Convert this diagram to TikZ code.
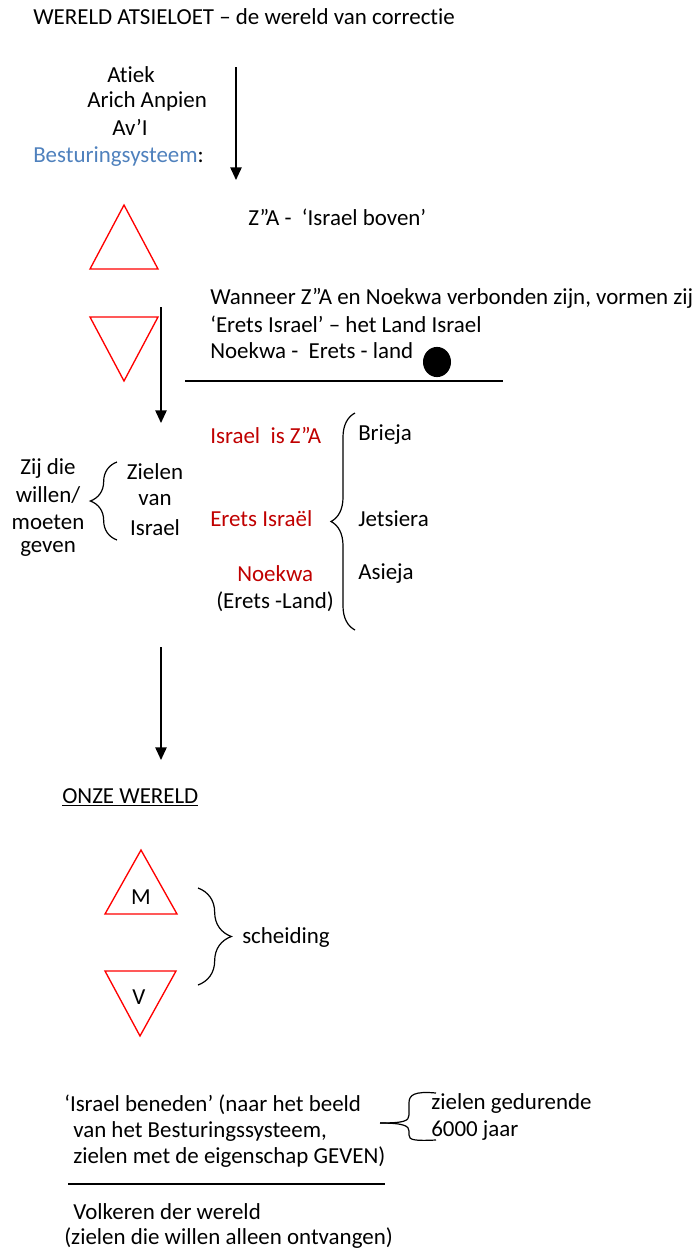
\documentclass[tikz,border=0pt]{standalone}
\usepackage{fontspec}
\setmainfont{Carlito}[Ligatures=NoCommon]
\usetikzlibrary{arrows.meta,decorations.pathreplacing,positioning}
\definecolor{stuurblauw}{RGB}{79,129,189}
\definecolor{donkerrood}{RGB}{192,0,0}
\tikzset{
  txt/.style={inner sep=0pt,anchor=west,font=\fontsize{17.2}{20}\selectfont},
  mid/.style={txt,anchor=center},
  pijl/.style={line width=1.2pt,-{Triangle[length=9.5pt,width=8.5pt]}},
  driehoek/.style={draw=red,line width=1pt,line join=miter},
  accolade/.style={decorate,decoration={brace,amplitude=#1},line width=0.9pt},
}

\begin{document}
\begin{tikzpicture}[x=0.75pt,y=-0.75pt]
  \useasboundingbox (0,0) rectangle (698,1254);

  % boven: wereld atsieloet
  \node[txt] (titel) at (33,17) {WERELD ATSIELOET – de wereld van correctie};
  \node[txt] (atiek) at (107,75) {Atiek};
  \node[txt] (arich) at (87,101) {Arich Anpien};
  \node[txt] (avi) at (112,127) {Av’I};
  \node[txt] (bestur) at (33,157) {\textcolor{stuurblauw}{Besturingsysteem}:};
  \coordinate (p1a) at (236,67);
  \coordinate (p1b) at (236,180);
  \draw[pijl] (p1a) -- (p1b);

  \draw[driehoek] (90,269) -- (124,205) -- (158,269) -- cycle;
  \node[txt] (za) at (248,217) {Z”A -\ \ ‘Israel boven’};
  \draw[driehoek] (90,317) -- (158,317) -- (124,381) -- cycle;

  \node[txt] (wanneer) at (210,298) {Wanneer Z”A en Noekwa verbonden zijn, vormen zij};
  \node[txt] (erets) at (210,324) {‘Erets Israel’ – het Land Israel};
  \node[txt] (noekwa) at (210,351) {Noekwa -\ \ Erets - land};
  \fill (437,362) ellipse [x radius=10.5pt,y radius=11.3pt];
  \draw[line width=0.9pt] (185,381) -- (503,381);
  \coordinate (p2a) at (161,307);
  \coordinate (p2b) at (161,423);
  \draw[pijl] (p2a) -- (p2b);

  % werelden
  \node[txt,text=donkerrood] (iza) at (210,435) {Israel\ \ is Z”A};
  \node[txt,text=donkerrood] (eisr) at (210,519) {Erets Israël};
  \node[txt,text=donkerrood] (noek) at (237,574) {Noekwa};
  \node[txt] (land) at (216,602) {(Erets -Land)};
  \node[txt] (brieja) at (358,435) {Brieja};
  \node[txt] (jets) at (358,519) {Jetsiera};
  \node[txt] (asieja) at (358,574) {Asieja};
  \draw[accolade=18pt] (355,630) -- (355,413);

  \foreach \t [count=\i] in {Zij die,willen/,moeten,geven}
    \node[mid] (zij\i) at (48,{441+27*\i}) {\t};
  \foreach \t [count=\i] in {Zielen,van,Israel}
    \node[mid] (ziel\i) at (155,{444+28*\i}) {\t};
  \draw[accolade=20pt] (117,540) -- (117,462);

  \coordinate (p3a) at (161,647);
  \coordinate (p3b) at (161,760);
  \draw[pijl] (p3a) -- (p3b);

  % onze wereld
  \node[txt] (onze) at (62,797) {\underline{ONZE WERELD}};
  \draw[driehoek] (105,914) -- (141,850) -- (177,914) -- cycle;
  \node[mid] (m) at (141,897) {M};
  \draw[driehoek] (105,971) -- (176,971) -- (140,1036) -- cycle;
  \node[mid] (v) at (139,997) {V};
  \draw[accolade=25pt] (198,888) -- (198,985);
  \node[txt] (scheid) at (242,937) {scheiding};

  \node[txt] (beneden) at (64,1105) {‘Israel beneden’ (naar het beeld};
  \node[txt] (vanhet) at (73,1131) {van het Besturingssysteem,};
  \node[txt] (geven) at (73,1157) {zielen met de eigenschap GEVEN)};
  \draw[line width=0.9pt] (68,1184) -- (385,1184);
  \node[txt] (volk) at (73,1212) {Volkeren der wereld};
  \node[txt] (ontv) at (64,1238) {(zielen die willen alleen ontvangen)};

  \draw[line width=0.9pt] (436,1093) .. controls (414,1091) and (409,1095) .. (409,1103)
    -- (409,1115) .. controls (409,1121) and (404,1123) .. (380,1123);
  \draw[line width=0.9pt] (380,1123) .. controls (404,1123) and (409,1126) .. (409,1131)
    -- (409,1135) .. controls (409,1140) and (414,1141) .. (436,1140);
  \node[txt] (gedur) at (431,1103) {zielen gedurende};
  \node[txt] (jaar) at (431,1131) {6000 jaar};
\end{tikzpicture}
\end{document}
